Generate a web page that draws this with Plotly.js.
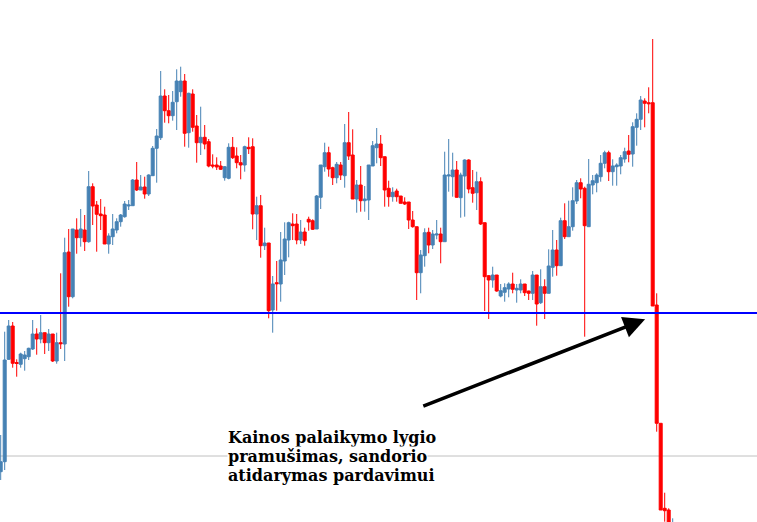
<!DOCTYPE html>
<html>
<head>
<meta charset="utf-8">
<script src="https://cdn.plot.ly/plotly-3.0.1.min.js"></script>
<style>
html,body{margin:0;padding:0;background:#fff;}
#chart{width:757px;height:522px;}
</style>
</head>
<body>
<div id="chart"></div>
<script>
// Candle values (price units)
var openVals = [50.3,60.3,162.7,196,159.5,157.7,163.3,165.3,173,188,
183,189.3,179.3,188,161,179.3,178,270,225.3,292,
284.3,292,280.3,335.3,317,308,307,278,285.3,292,
300.3,305.3,316,316.3,342,332,335,328,346.3,373.7,
384.3,426,411.3,406.3,420.3,430.3,441,389.3,428,396,
379.3,384.7,380.3,357,357,356,344.3,343.7,374.7,366,
359.3,357,374.7,375.3,308,316.3,276.3,279,212,239.3,
238,261,282,298,298,282,290,302.7,301.3,293,
324.7,355.3,369.3,354.3,344.3,357,346.3,379.3,367,323,
337,321.3,322,356,374.3,378,365.3,333.7,325.3,331,
326,320,320,302,295.3,249.3,266.3,289.7,277,287,
288,280.3,346,345.3,352,324.3,346,362,334.3,329.3,
340.3,299.3,246.3,242,247,226,229.7,233,238,232,
232,238,231,228.7,247,219.3,235.3,228.7,254.7,272,
256.3,301.3,285.3,295.3,321,339.3,333.7,295.3,337,339.3,
345.3,358.7,369.3,350.3,355.3,356,363,371,368,394.7,
402.7,421,419.3,419.3,217,98.7,13.7,12,-8];

var highVals = [87,190.3,202,200,162.7,169.3,171,174.3,202,193.7,
207,189.3,193,188,189.3,248.7,284.3,293,293,303.7,
313,307,351,338.7,321,323,315.3,288.7,308,303.7,
308,321,322,343,360,347,345.3,347.7,376,393,
451,432.7,427,431,452.7,455.3,448,429.3,432.7,407,
415.3,397,383,367.7,364.7,361,356,378.7,385,374.7,
367,376.3,384.7,383.7,325.3,327,294.3,279,246,261,
290,299.7,300.3,308.7,308,302,294.3,305.3,302.7,327,
357,379.3,375.3,355.3,360,360,398,410,392.7,342,
356,336,357,381,394,387,365.3,341.3,334.7,333.3,
326,324.7,320,311,295.3,272,293.7,294.3,292,302,
294.3,370.3,383,369.3,361,349.3,362.7,362.7,352,350.3,
344.7,299.3,247,255.3,247,238,238.7,239.7,249.3,238,
242.7,238,231.3,251,247,252.7,242.7,272.7,292,282,
304.3,318.7,321.3,334.7,342,343.7,335.3,363,347,348.7,
367,371.3,371.3,362.7,358.7,367,374.3,387,399.7,408.7,
426,423.7,434.7,483,228.7,98.7,29.3,13.7,3.7];

var lowVals = [42,52,162,154.3,145.3,154.3,151.3,162,172,167.3,
178.7,168,171,160,158.3,173,161,215.3,223.7,268.3,
275.3,271,279.3,297,270.3,292,278,268.3,277,288.7,
295.3,304.3,312,316.3,331,332,323.3,326,346,339.3,
382,399.3,398.7,401.3,392,425.3,375.3,374.3,390.3,359.3,
367,372.7,354.7,353.7,352,352,341.3,342.7,363,353.7,
342.7,350.3,368,292.7,282,264.3,272,203.7,189.3,211.3,
220.3,247,264.7,282,277.7,278,276.3,291.3,292,293,
313,350.3,345.3,337,338.7,342,334.3,362,323,309.3,
310.3,310.3,302,356,358.7,356,315.3,315.3,320.3,320.3,
318.7,317,293,294.3,222,228.7,255.3,268.7,273,282.7,
258.7,280.3,330.3,325.3,324.3,304.3,305.3,328.7,319.3,312,
297,211,203,234.3,230.3,224.7,220.3,224.7,228.7,219.3,
228.7,226,222,222,196.3,218,203,228.7,245.3,246.3,
256.3,283,285.3,291.3,318,323.7,185.3,295.3,327.7,329.7,
340.3,353.7,341,336.3,336.3,347.7,359.3,359.7,355.3,376.3,
392,394.7,408.7,216,90.3,12,0.3,-10,-10];

var closeVals = [60.3,162,196,158.7,158.5,168,167,173.7,188,183,
189.3,179.3,188,161,179.3,178.3,269.3,225.3,293,284.3,
293,280.3,335.3,316,307.7,306.3,278,286,293,300.3,
307,318,317,342,332,335,328,347,373.7,386,
426,411.3,406.3,419.7,441,441,388.7,428.7,394.7,379.3,
384.7,378,356,356,355,352.7,355.3,374.7,364.3,359.3,
357,375.3,373.3,308,316.3,276.3,279,211.3,238,238.3,
262,283,299.3,296.3,282,290,281.3,300,292.7,326,
357,369.3,353,344.3,357.7,347,379.3,366,323,337,
321.3,323,357,376.3,378,364.3,332,325.3,329.7,325.3,
318.7,318,302,295.3,249.3,267,289.3,277,288,288,
280.3,347,347,352,324.7,347,362,333,328.7,340.3,
298,245.3,242,247,231,231.3,234.3,238,232.7,233.7,
238,229.3,228.7,247,218,235.3,228.7,256,272,256.3,
301.3,285.3,295.3,321.3,339.3,333,296.3,337.7,341.3,347,
358.7,369.3,350.3,356,357,364.3,370.3,367.7,395.3,402.7,
422,418.7,418.3,216,98.7,12,11.3,-6,-2];

var supportLevel = 209;   // blue horizontal level
var greyLevel = 66;       // grey horizontal level
var arrowTip = [162.1, 202.7];
var noteLines = ["Kainos palaikymo lygio", "pramušimas, sandorio", "atidarymas pardavimui"];

var xVals = openVals.map(function(_, i){ return i + 1; });

var trace = {
  type: 'candlestick',
  x: xVals,
  open: openVals,
  high: highVals,
  low: lowVals,
  close: closeVals,
  increasing: {line: {color: '#4682b4', width: 1}, fillcolor: '#4682b4'},
  decreasing: {line: {color: '#ff0000', width: 1}, fillcolor: '#ff0000'},
  whiskerwidth: 0,
  hoverinfo: 'skip'
};

var noteFont = {family: 'DejaVu Serif', size: 16, color: '#000'};
var noteY = [0.1628, 0.1264, 0.0900];
var annotations = noteLines.map(function(t, i){
  return {
    xref: 'paper', yref: 'paper', x: 0.2999, y: noteY[i],
    xanchor: 'left', yanchor: 'middle',
    text: '<b>' + t + '</b>', showarrow: false,
    font: noteFont, bgcolor: i === 1 ? '#ffffff' : 'rgba(0,0,0,0)', borderpad: 0
  };
});
annotations.push({
  x: arrowTip[0], y: arrowTip[1], xref: 'x', yref: 'y',
  ax: -223.3, ay: 87.4, axref: 'pixel', ayref: 'pixel',
  text: '', showarrow: true, arrowhead: 2, arrowsize: 1.2, arrowwidth: 3.6,
  arrowcolor: '#000000', standoff: 0, startstandoff: 0
});

var layout = {
  width: 757, height: 522,
  margin: {l: 0, r: 0, t: 0, b: 0, pad: 0},
  paper_bgcolor: '#ffffff', plot_bgcolor: '#ffffff',
  showlegend: false,
  boxgap: 0.25, boxgroupgap: 0,
  xaxis: {range: [0.825, 190.075], visible: false, rangeslider: {visible: false}, fixedrange: true},
  yaxis: {range: [0, 522], visible: false, fixedrange: true},
  shapes: [
    {type: 'line', xref: 'paper', x0: 0, x1: 1, yref: 'y', y0: greyLevel, y1: greyLevel,
     line: {color: '#c0c0c0', width: 1}, layer: 'below'},
    {type: 'line', xref: 'paper', x0: 0, x1: 1, yref: 'y', y0: supportLevel, y1: supportLevel,
     line: {color: '#0000ff', width: 2}, layer: 'above'}
  ],
  annotations: annotations
};

Plotly.newPlot('chart', [trace], layout, {staticPlot: true, displayModeBar: false});
</script>
</body>
</html>
